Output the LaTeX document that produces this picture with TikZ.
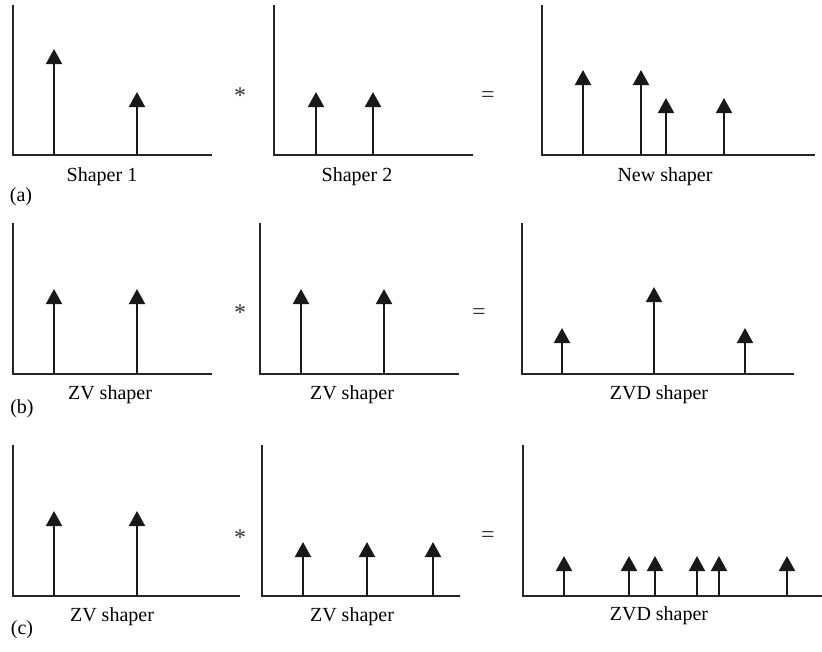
\documentclass[tikz,border=0pt]{standalone}
\usepackage{fontspec}
\setmainfont{Liberation Serif}
\usetikzlibrary{arrows.meta}

\begin{document}
\begin{tikzpicture}[x=1pt,y=-1pt,
  axis/.style={line width=1.3pt,draw=black!85},
  imp/.style={line width=2pt,draw=black!90,-{Triangle[width=16pt,length=15pt]}},
  lbl/.style={font=\fontsize{20}{24}\selectfont,inner sep=0pt},
  op/.style={font=\fontsize{24}{28}\selectfont,inner sep=0pt,text=black!80}]
\useasboundingbox (0,0) rectangle (822,651);
\def\ya{155}
\def\yb{374}
\def\yc{596}
% row (a)
\draw[axis] (13,5) -- (13,\ya) -- (212,\ya);
\draw[axis] (274,5) -- (274,\ya) -- (473,\ya);
\draw[axis] (542,5) -- (542,\ya) -- (815,\ya);
\draw[imp] (54,\ya) -- (54,49);
\draw[imp] (137,\ya) -- (137,92);
\draw[imp] (316,\ya) -- (316,92);
\draw[imp] (373,\ya) -- (373,92);
\draw[imp] (583,\ya) -- (583,70);
\draw[imp] (641,\ya) -- (641,70);
\draw[imp] (666,\ya) -- (666,98);
\draw[imp] (724,\ya) -- (724,98);
\node[lbl] (shapA1) at (102,177) {Shaper 1};
\node[lbl] (shapA2) at (357,177) {Shaper 2};
\node[lbl] (shapA3) at (665,177) {New shaper};
\node[lbl] (tagA) at (21,197) {(a)};
\node[op] (convA) at (240,96) {*};
\node[op] (eqA) at (488,97) {=};
% row (b)
\draw[axis] (13,223) -- (13,\yb) -- (212,\yb);
\draw[axis] (260,223) -- (260,\yb) -- (459,\yb);
\draw[axis] (522,223) -- (522,\yb) -- (794,\yb);
\draw[imp] (54,\yb) -- (54,289);
\draw[imp] (137,\yb) -- (137,289);
\draw[imp] (301,\yb) -- (301,289);
\draw[imp] (384,\yb) -- (384,289);
\draw[imp] (562,\yb) -- (562,328);
\draw[imp] (654,\yb) -- (654,287);
\draw[imp] (745,\yb) -- (745,328);
\node[lbl] (shapB1) at (110,395) {ZV shaper};
\node[lbl] (shapB2) at (352,395) {ZV shaper};
\node[lbl] (shapB3) at (659,395) {ZVD shaper};
\node[lbl] (tagB) at (22,409) {(b)};
\node[op] (convB) at (240,313) {*};
\node[op] (eqB) at (479,314) {=};
% row (c)
\draw[axis] (13,445) -- (13,\yc) -- (240,\yc);
\draw[axis] (262,445) -- (262,\yc) -- (460,\yc);
\draw[axis] (523,445) -- (523,\yc) -- (822,\yc);
\draw[imp] (54,\yc) -- (54,511);
\draw[imp] (137,\yc) -- (137,511);
\draw[imp] (303,\yc) -- (303,542);
\draw[imp] (367,\yc) -- (367,542);
\draw[imp] (433,\yc) -- (433,542);
\draw[imp] (564,\yc) -- (564,556);
\draw[imp] (629,\yc) -- (629,556);
\draw[imp] (655,\yc) -- (655,556);
\draw[imp] (697,\yc) -- (697,556);
\draw[imp] (719,\yc) -- (719,556);
\draw[imp] (787,\yc) -- (787,556);
\node[lbl] (shapC1) at (112,617) {ZV shaper};
\node[lbl] (shapC2) at (352,617) {ZV shaper};
\node[lbl] (shapC3) at (659,616) {ZVD shaper};
\node[lbl] (tagC) at (22,630) {(c)};
\node[op] (convC) at (240,538) {*};
\node[op] (eqC) at (488,537) {=};
\end{tikzpicture}
\end{document}
